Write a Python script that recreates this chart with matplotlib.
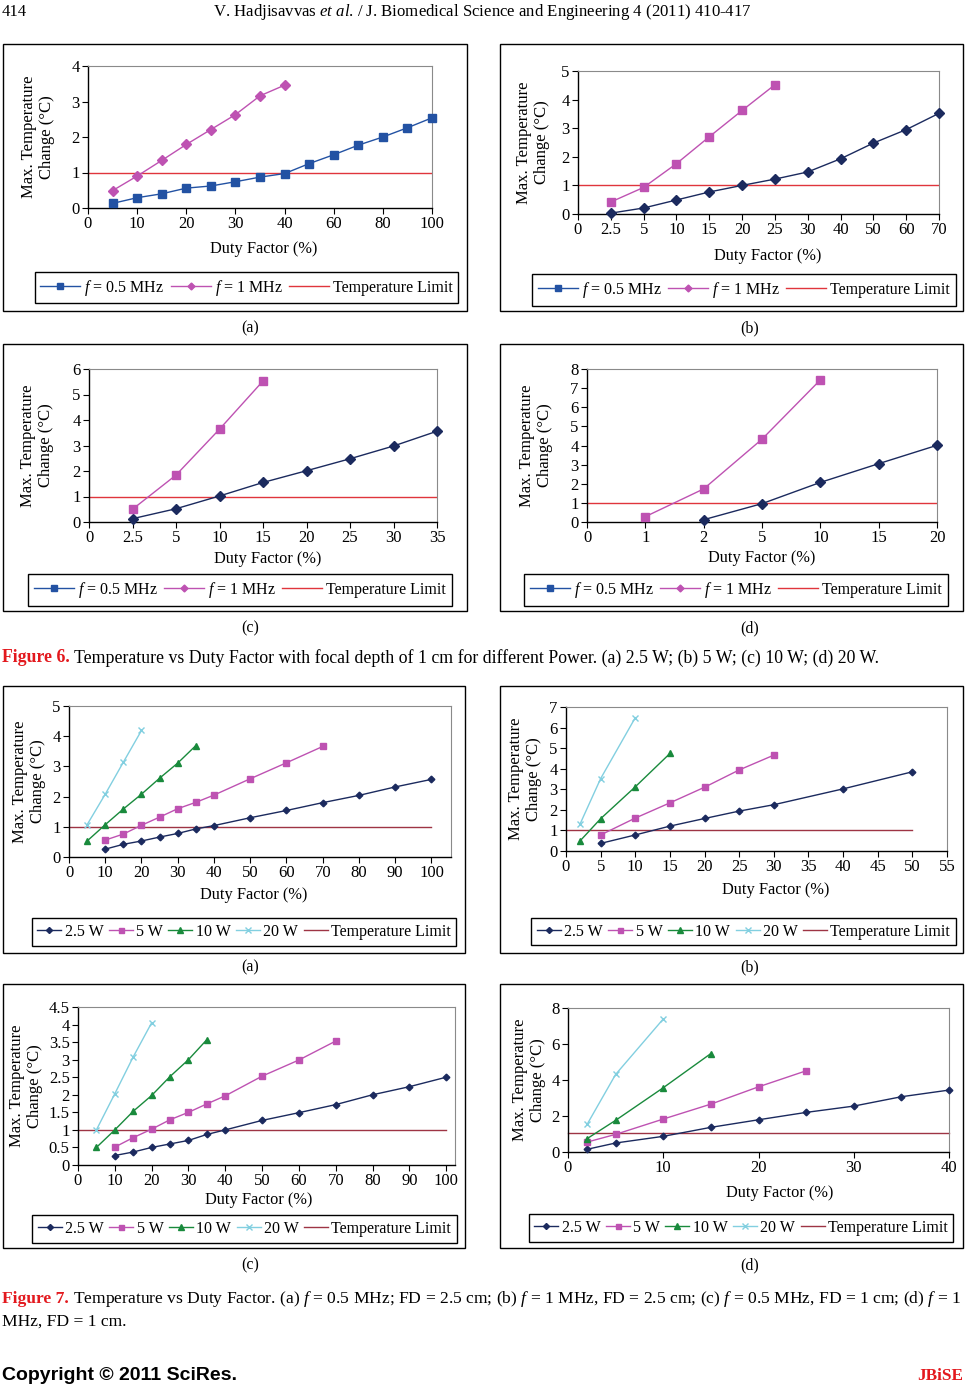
import matplotlib
matplotlib.use("Agg")
import matplotlib.pyplot as plt
from matplotlib.lines import Line2D
from matplotlib.patches import Rectangle
import numpy as np

plt.rcParams['font.family'] = ['Liberation Serif', 'DejaVu Serif']
plt.rcParams['mathtext.fontset'] = 'custom'
plt.rcParams['mathtext.it'] = 'Liberation Serif:italic'
plt.rcParams['mathtext.rm'] = 'Liberation Serif'
plt.rcParams['mathtext.bf'] = 'Liberation Serif:bold'

# ---------------- data : Figure 6 (category x axes) ----------------
cats_6a = [0, 5, 10, 15, 20, 25, 30, 35, 40, 50, 60, 70, 80, 90, 100]
ticks_6a = [0, 10, 20, 30, 40, 60, 80, 100]
f05_6a_x = [5, 10, 15, 20, 25, 30, 35, 40, 50, 60, 70, 80, 90, 100]
f05_6a_y = [0.13, 0.29, 0.40, 0.56, 0.62, 0.74, 0.87, 0.97, 1.25, 1.50, 1.77, 2.00, 2.26, 2.54]
f1_6a_x = [5, 10, 15, 20, 25, 30, 35, 40]
f1_6a_y = [0.49, 0.90, 1.34, 1.79, 2.21, 2.63, 3.16, 3.46]

cats_6b = [0, 2.5, 5, 10, 15, 20, 25, 30, 40, 50, 60, 70]
ticks_6b = cats_6b
f05_6b_x = [2.5, 5, 10, 15, 20, 25, 30, 40, 50, 60, 70]
f05_6b_y = [0.03, 0.21, 0.49, 0.77, 1.00, 1.22, 1.47, 1.93, 2.48, 2.95, 3.52]
f1_6b_x = [2.5, 5, 10, 15, 20, 25]
f1_6b_y = [0.42, 0.93, 1.76, 2.70, 3.62, 4.52]

cats_6c = [0, 2.5, 5, 10, 15, 20, 25, 30, 35]
ticks_6c = cats_6c
f05_6c_x = [2.5, 5, 10, 15, 20, 25, 30, 35]
f05_6c_y = [0.13, 0.52, 1.02, 1.55, 2.01, 2.48, 2.98, 3.56]
f1_6c_x = [2.5, 5, 10, 15]
f1_6c_y = [0.50, 1.84, 3.64, 5.53]

cats_6d = [0, 1, 2, 5, 10, 15, 20]
ticks_6d = cats_6d
f05_6d_x = [2, 5, 10, 15, 20]
f05_6d_y = [0.12, 0.96, 2.07, 3.05, 4.01]
f1_6d_x = [1, 2, 5, 10]
f1_6d_y = [0.28, 1.73, 4.33, 7.43]

limit_6 = 1.0

# ---------------- data : Figure 7 (value x axes) ----------------
w25_7a_x = [10, 15, 20, 25, 30, 35, 40, 50, 60, 70, 80, 90, 100]
w25_7a_y = [0.26, 0.42, 0.53, 0.66, 0.78, 0.93, 1.04, 1.30, 1.54, 1.80, 2.04, 2.32, 2.57]
w5_7a_x = [10, 15, 20, 25, 30, 35, 40, 50, 60, 70]
w5_7a_y = [0.56, 0.76, 1.05, 1.32, 1.60, 1.81, 2.05, 2.59, 3.12, 3.66]
w10_7a_x = [5, 10, 15, 20, 25, 30, 35]
w10_7a_y = [0.53, 1.07, 1.59, 2.08, 2.61, 3.11, 3.69]
w20_7a_x = [5, 10, 15, 20]
w20_7a_y = [1.07, 2.08, 3.14, 4.19]
lim_7a_x = [0, 100]
lim_7a_y = [1.0, 1.0]

w25_7b_x = [5, 10, 15, 20, 25, 30, 40, 50]
w25_7b_y = [0.37, 0.78, 1.21, 1.58, 1.94, 2.25, 3.02, 3.85]
w5_7b_x = [5, 10, 15, 20, 25, 30]
w5_7b_y = [0.78, 1.60, 2.34, 3.10, 3.94, 4.66]
w10_7b_x = [2, 5, 10, 15]
w10_7b_y = [0.48, 1.57, 3.12, 4.74]
w20_7b_x = [2, 5, 10]
w20_7b_y = [1.29, 3.52, 6.48]
lim_7b_x = [0, 50]
lim_7b_y = [1.0, 1.0]

w25_7c_x = [10, 15, 20, 25, 30, 35, 40, 50, 60, 70, 80, 90, 100]
w25_7c_y = [0.27, 0.37, 0.50, 0.60, 0.70, 0.87, 1.00, 1.27, 1.49, 1.72, 2.00, 2.23, 2.50]
w5_7c_x = [10, 15, 20, 25, 30, 35, 40, 50, 60, 70]
w5_7c_y = [0.51, 0.78, 1.02, 1.29, 1.50, 1.74, 1.97, 2.53, 2.99, 3.53]
w10_7c_x = [5, 10, 15, 20, 25, 30, 35]
w10_7c_y = [0.50, 1.00, 1.53, 1.98, 2.52, 3.00, 3.57]
w20_7c_x = [5, 10, 15, 20]
w20_7c_y = [1.00, 2.03, 3.08, 4.05]
lim_7c_x = [0, 100]
lim_7c_y = [1.0, 1.0]

w25_7d_x = [2, 5, 10, 15, 20, 25, 30, 35, 40]
w25_7d_y = [0.15, 0.50, 0.87, 1.37, 1.79, 2.20, 2.55, 3.07, 3.44]
w5_7d_x = [2, 5, 10, 15, 20, 25]
w5_7d_y = [0.55, 0.98, 1.83, 2.66, 3.62, 4.51]
w10_7d_x = [2, 5, 10, 15]
w10_7d_y = [0.74, 1.76, 3.57, 5.47]
w20_7d_x = [2, 5, 10]
w20_7d_y = [1.53, 4.31, 7.39]
lim_7d_x = [0, 40]
lim_7d_y = [1.05, 1.05]

# ---------------- styling ----------------
W, H = 966, 1386
NAVY = '#1B2A5E'
BLUE = '#2352A3'
PINK = '#BE52B2'
RED6 = '#E0353C'
RED7 = '#9E3444'
GREEN = '#198A3C'
CYAN = '#82CFE0'
TICK_FS = 12
LAB_FS = 12
XLAB_FS = 11.8
LEG_FS = 11.5

fig = plt.figure(figsize=(W / 100, H / 100), dpi=100, facecolor='white')


def axes_px(x0, y0, x1, y1):
    return fig.add_axes([x0 / W, 1 - y1 / H, (x1 - x0) / W, (y1 - y0) / H])


def frame_px(x0, y0, x1, y1):
    fig.patches.append(Rectangle((x0 / W, 1 - y1 / H), (x1 - x0) / W, (y1 - y0) / H,
                                 transform=fig.transFigure, fill=False, ec='black', lw=1.0))


def txt(x, y, s, **kw):
    return fig.text(x / W, 1 - y / H, s, **kw)


def style_axes(ax):
    for side in ('left', 'bottom'):
        ax.spines[side].set_color('black')
        ax.spines[side].set_linewidth(1.0)
    for side in ('top', 'right'):
        ax.spines[side].set_color('#8a8a8a')
        ax.spines[side].set_linewidth(0.8)
    ax.tick_params(direction='out', length=4, width=0.8, labelsize=TICK_FS, pad=2,
                   colors='black')
    ax.set_facecolor('white')


def fmt(v):
    return ('%g' % v)


def labels_px(ax_box, ylab_x, xlab_xy, ytext):
    x0, y0, x1, y1 = ax_box
    txt(ylab_x, (y0 + y1) / 2, ytext, rotation=90, ha='center', va='center',
        multialignment='center', fontsize=LAB_FS, linespacing=1.12)
    txt(xlab_xy[0], xlab_xy[1], 'Duty Factor (%)', ha='center', va='center', fontsize=XLAB_FS)


YTXT = 'Max. Temperature\nChange (\u00b0C)'

# ---------------- Figure 6 panels ----------------
fig6 = [
    dict(frame=(3, 44, 467, 311), ax=(88, 66, 432, 208), cats=cats_6a, ticks=ticks_6a,
         ymax=4, ylab=38, xlab=(264, 249), leg=(246.5, 287.5),
         s05=(f05_6a_x, f05_6a_y), s1=(f1_6a_x, f1_6a_y), first=True),
    dict(frame=(500, 44, 963, 311), ax=(578, 71, 939, 214), cats=cats_6b, ticks=ticks_6b,
         ymax=5, ylab=533, xlab=(768, 256), leg=(744, 290),
         s05=(f05_6b_x, f05_6b_y), s1=(f1_6b_x, f1_6b_y), first=False),
    dict(frame=(3, 344, 467, 611), ax=(89, 369, 437, 522), cats=cats_6c, ticks=ticks_6c,
         ymax=6, ylab=37, xlab=(268, 559), leg=(240, 590),
         s05=(f05_6c_x, f05_6c_y), s1=(f1_6c_x, f1_6c_y), first=False),
    dict(frame=(500, 344, 963, 611), ax=(587, 369, 937, 522), cats=cats_6d, ticks=ticks_6d,
         ymax=8, ylab=536, xlab=(762, 558), leg=(736, 590),
         s05=(f05_6d_x, f05_6d_y), s1=(f1_6d_x, f1_6d_y), first=False),
]

for p in fig6:
    frame_px(*p['frame'])
    ax = axes_px(*p['ax'])
    style_axes(ax)
    cats = p['cats']
    step = 0.5 if p['ticks'] is not cats else 1.0
    pos = lambda vals: [cats.index(v) * step for v in vals]
    ax.axhline(limit_6, color=RED6, lw=1.0, zorder=2)
    if p['first']:
        ax.plot(pos(p['s05'][0]), p['s05'][1], color=BLUE, lw=1.0, marker='s', ms=5.6,
                mfc=BLUE, mec=BLUE, clip_on=False, zorder=3)
        ax.plot(pos(p['s1'][0]), p['s1'][1], color=PINK, lw=1.0, marker='D', ms=4.6,
                mfc=PINK, mec=PINK, clip_on=False, zorder=3)
    else:
        ax.plot(pos(p['s05'][0]), p['s05'][1], color=NAVY, lw=1.0, marker='D', ms=4.6,
                mfc=NAVY, mec=NAVY, clip_on=False, zorder=3)
        ax.plot(pos(p['s1'][0]), p['s1'][1], color=PINK, lw=1.0, marker='s', ms=5.4,
                mfc=PINK, mec=PINK, clip_on=False, zorder=3)
    tpos = [cats.index(t) * step for t in p['ticks']]
    ax.set_xticks(tpos)
    ax.set_xticklabels([fmt(t) for t in p['ticks']])
    ax.set_xlim(0, tpos[-1])
    ax.set_ylim(0, p['ymax'])
    ax.set_yticks(range(0, p['ymax'] + 1))
    ax.set_yticklabels([str(v) for v in range(0, p['ymax'] + 1)])
    labels_px(p['ax'], p['ylab'], p['xlab'], YTXT)
    handles = [Line2D([], [], color=BLUE, lw=1.0, marker='s', ms=4, mfc=BLUE, mec=BLUE),
               Line2D([], [], color=PINK, lw=1.0, marker='D', ms=3.5, mfc=PINK, mec=PINK),
               Line2D([], [], color=RED6, lw=1.0)]
    leg = fig.legend(handles, ['$f$ = 0.5 MHz', '$f$ = 1 MHz', 'Temperature Limit'],
                     loc='center', bbox_to_anchor=(p['leg'][0] / W, 1 - p['leg'][1] / H),
                     ncol=3, frameon=True, fancybox=False, edgecolor='black', framealpha=1,
                     fontsize=LEG_FS, handlelength=2.5, handletextpad=0.25, columnspacing=0.4,
                     borderpad=0.35, borderaxespad=0)
    leg.get_frame().set_linewidth(1.0)

# ---------------- Figure 7 panels ----------------
fig7 = [
    dict(frame=(3, 686, 465, 953), ax=(69, 706, 451, 857), xlim=105.4, xt=np.arange(0, 101, 10),
         ylim=5, yt=np.arange(0, 5.01, 1), ylab=29, xlab=(254, 895), leg=(244, 932),
         d=[(w25_7a_x, w25_7a_y), (w5_7a_x, w5_7a_y), (w10_7a_x, w10_7a_y), (w20_7a_x, w20_7a_y)],
         lim=(lim_7a_x, lim_7a_y)),
    dict(frame=(500, 686, 963, 953), ax=(566, 707, 947, 851), xlim=55, xt=np.arange(0, 56, 5),
         ylim=7, yt=np.arange(0, 7.01, 1), ylab=525, xlab=(776, 890), leg=(743.5, 931.5),
         d=[(w25_7b_x, w25_7b_y), (w5_7b_x, w5_7b_y), (w10_7b_x, w10_7b_y), (w20_7b_x, w20_7b_y)],
         lim=(lim_7b_x, lim_7b_y)),
    dict(frame=(3, 984, 465, 1248), ax=(78, 1007, 455, 1165), xlim=102.4, xt=np.arange(0, 101, 10),
         ylim=4.5, yt=np.arange(0, 4.51, 0.5), ylab=26, xlab=(259, 1200), leg=(244.5, 1229),
         d=[(w25_7c_x, w25_7c_y), (w5_7c_x, w5_7c_y), (w10_7c_x, w10_7c_y), (w20_7c_x, w20_7c_y)],
         lim=(lim_7c_x, lim_7c_y)),
    dict(frame=(500, 984, 963, 1248), ax=(568, 1008, 949, 1152), xlim=40, xt=np.arange(0, 41, 10),
         ylim=8, yt=np.arange(0, 8.01, 2), ylab=529, xlab=(780, 1193), leg=(741, 1228),
         d=[(w25_7d_x, w25_7d_y), (w5_7d_x, w5_7d_y), (w10_7d_x, w10_7d_y), (w20_7d_x, w20_7d_y)],
         lim=(lim_7d_x, lim_7d_y)),
]

styles7 = [
    dict(color=NAVY, marker='D', ms=3.4),
    dict(color=PINK, marker='s', ms=4.0),
    dict(color=GREEN, marker='^', ms=5.0),
    dict(color=CYAN, marker='x', ms=5.0),
]
names7 = ['2.5 W', '5 W', '10 W', '20 W', 'Temperature Limit']

for p in fig7:
    frame_px(*p['frame'])
    ax = axes_px(*p['ax'])
    style_axes(ax)
    ax.plot(p['lim'][0], p['lim'][1], color=RED7, lw=1.0, zorder=2, clip_on=False)
    for (xs, ys), st in zip(p['d'], styles7):
        ax.plot(xs, ys, color=st['color'], lw=1.0, marker=st['marker'], ms=st['ms'],
                mfc=st['color'], mec=st['color'], mew=1.0, clip_on=False, zorder=3)
    ax.set_xlim(0, p['xlim'])
    ax.set_xticks(p['xt'])
    ax.set_xticklabels([fmt(v) for v in p['xt']])
    ax.set_ylim(0, p['ylim'])
    ax.set_yticks(p['yt'])
    ax.set_yticklabels([fmt(v) for v in p['yt']])
    labels_px(p['ax'], p['ylab'], p['xlab'], YTXT)
    handles = [Line2D([], [], color=st['color'], lw=1.0, marker=st['marker'],
                      ms=st['ms'] * 0.9, mfc=st['color'], mec=st['color']) for st in styles7]
    handles.append(Line2D([], [], color=RED7, lw=1.0))
    leg = fig.legend(handles, names7,
                     loc='center', bbox_to_anchor=(p['leg'][0] / W, 1 - p['leg'][1] / H),
                     ncol=5, frameon=True, fancybox=False, edgecolor='black', framealpha=1,
                     fontsize=LEG_FS, handlelength=1.5, handletextpad=0.2, columnspacing=0.35,
                     borderpad=0.35, borderaxespad=0)
    leg.get_frame().set_linewidth(1.0)

# ---------------- page texts ----------------
txt(2, 12, '414', ha='left', va='center', fontsize=12)
txt(482, 12, r'V. Hadjisavvas $\mathit{et\ al}$. / J. Biomedical Science and Engineering 4 (2011) 410-417',
    ha='center', va='center', fontsize=12.1)

for (x, y, s) in [(250, 328, '(a)'), (750, 328, '(b)'), (250, 628, '(c)'), (750, 628, '(d)'),
                  (250, 967, '(a)'), (750, 967, '(b)'), (250, 1265, '(c)'), (750, 1265, '(d)')]:
    txt(x, y, s, ha='center', va='center', fontsize=11.5)

fig.canvas.draw()
renderer = fig.canvas.get_renderer()


def caption(x, y, head, body, fs):
    t = txt(x, y, head, ha='left', va='center', fontsize=fs, color='#E3191E', fontweight='bold')
    bb = t.get_window_extent(renderer)
    fig.text(bb.x1 / fig.bbox.width + 4 / W, 1 - y / H, body, ha='left', va='center', fontsize=fs)


caption(2, 658, 'Figure 6.',
        'Temperature vs Duty Factor with focal depth of 1 cm for different Power. '
        '(a) 2.5 W; (b) 5 W; (c) 10 W; (d) 20 W.', 12.8)
caption(2, 1299, 'Figure 7.',
        'Temperature vs Duty Factor. (a) $f$ = 0.5 MHz; FD = 2.5 cm; (b) $f$ = 1 MHz, FD = 2.5 cm; '
        '(c) $f$ = 0.5 MHz, FD = 1 cm; (d) $f$ = 1', 12.6)
txt(2, 1322, 'MHz, FD = 1 cm.', ha='left', va='center', fontsize=12.6)

txt(2, 1376, 'Copyright \u00a9 2011 SciRes.', ha='left', va='center', fontsize=14,
    fontweight='bold', family=['Liberation Sans', 'DejaVu Sans'])
txt(963, 1376, 'JBiSE', ha='right', va='center', fontsize=12.3, fontweight='bold', color='#E3191E')

fig.savefig('out.png', dpi=100, facecolor='white')
